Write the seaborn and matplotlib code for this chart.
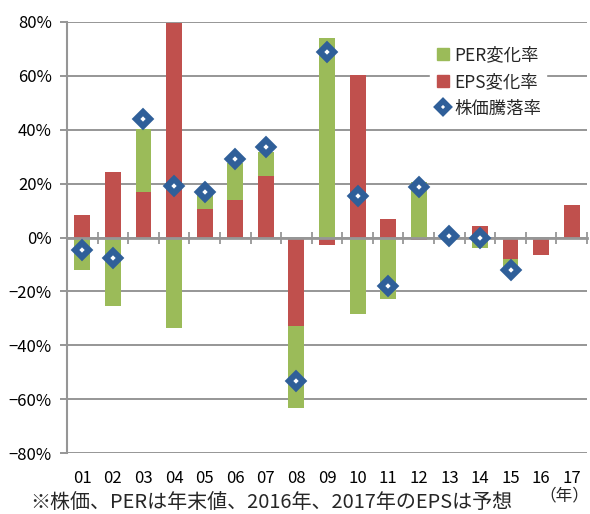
import numpy as np
import pandas as pd
import matplotlib
matplotlib.use('Agg')
import matplotlib.pyplot as plt
from matplotlib.lines import Line2D
from matplotlib.ticker import FuncFormatter, FixedLocator
import seaborn as sns

# data (% change per year)
years = ['01', '02', '03', '04', '05', '06', '07', '08', '09',
         '10', '11', '12', '13', '14', '15', '16', '17']
eps_chg = [8.5, 24.3, 17.0, 79.8, 10.7, 14.0, 22.8, -32.7, -2.9,
           60.5, 6.7, -1.1, 1.0, 4.2, -7.9, -6.6, 11.9]
per_chg = [-12.0, -25.3, 23.4, -33.6, 5.5, 13.8, 8.9, -30.6, 74.2,
           -28.3, -22.8, 20.6, -0.6, -3.8, -4.3, 0.0, 0.0]
price_chg = [-4.7, -7.6, 43.9, 19.1, 16.8, 29.2, 33.6, -53.4, 68.9,
             15.4, -18.1, 18.8, 0.4, 0.0, -11.9, np.nan, np.nan]

GREEN = '#9BBB59'
RED = '#C0504D'
BLUE = '#2F5F99'
GRID = '#969696'

sns.set_style('white')
plt.rcParams['font.family'] = ['Noto Sans CJK JP', 'DejaVu Sans']

df = pd.DataFrame({'year': years, 'eps': eps_chg, 'per': per_chg, 'price': price_chg})
# PER stacks on top of EPS, positives and negatives separately
df['per_bottom'] = np.where(df['per'] >= 0, df['eps'].clip(lower=0), df['eps'].clip(upper=0))

fig = plt.figure(figsize=(5.9, 5.14), dpi=100)
ax = fig.add_axes([67 / 590, 1 - 453 / 514, 520 / 590, 431 / 514])

sns.barplot(data=df, x='year', y='eps', color=RED, width=0.52, saturation=1,
            order=years, ax=ax, zorder=1, linewidth=0)
sns.barplot(data=df, x='year', y='per', color=GREEN, width=0.52, saturation=1,
            order=years, ax=ax, bottom=df['per_bottom'].values, zorder=1, linewidth=0)
sns.lineplot(data=df, x='year', y='price', ax=ax, linestyle='none', marker='D',
             markersize=6.8, markerfacecolor='white', markeredgecolor=BLUE,
             markeredgewidth=4.4, zorder=5)

ax.set_xlim(-0.5, len(years) - 0.5)
ax.set_ylim(-80, 80)
ax.set_yticks(np.arange(-80, 81, 20))
ax.yaxis.set_major_formatter(FuncFormatter(lambda v, p: f'{v:.0f}%'.replace('-', '\u2212')))
ax.grid(axis='y', color=GRID, linewidth=1.4)
ax.set_axisbelow(True)
ax.set_xlabel('')
ax.set_ylabel('')

for s in ['right', 'bottom']:
    ax.spines[s].set_visible(False)
ax.spines['left'].set_color(GRID)
ax.spines['left'].set_linewidth(1.5)
# zero line with category separators
ax.spines['top'].set_position(('data', 0))
ax.spines['top'].set_color(GRID)
ax.spines['top'].set_linewidth(2)
ax.spines['top'].set_zorder(3)
ax.xaxis.set_minor_locator(FixedLocator(np.arange(0.5, len(years), 1)))
ax.tick_params(axis='x', which='minor', top=True, bottom=False, direction='inout',
               length=8.5, width=1.3, color=GRID)
ax.tick_params(axis='x', which='major', bottom=True, top=False, length=0, pad=12,
               labelsize=12, colors='black')
ax.tick_params(axis='y', left=True, length=5, width=1.4, color=GRID, pad=6,
               labelsize=12, labelcolor='black')

handles = [
    Line2D([], [], linestyle='none', marker='s', markersize=8.5, color=GREEN),
    Line2D([], [], linestyle='none', marker='s', markersize=8.5, color=RED),
    Line2D([], [], linestyle='none', marker='D', markersize=6, markerfacecolor='white',
           markeredgecolor=BLUE, markeredgewidth=4),
]
leg = ax.legend(handles, ['PER変化率', 'EPS変化率', '株価騰落率'],
                loc='upper left', bbox_to_anchor=(430 / 590, 1 - 41 / 514),
                bbox_transform=fig.transFigure, fontsize=12.5, frameon=True,
                framealpha=1, edgecolor='white', fancybox=False,
                handlelength=0.9, handletextpad=0.2, labelspacing=0.5,
                borderpad=0.3, borderaxespad=0)
leg.set_zorder(10)

fig.text(589 / 590, 1 - 496 / 514, '（年）', fontsize=12, va='center', ha='right')
fig.text(30 / 590, 1 - 513 / 514, '※株価、PERは年末値、2016年、2017年のEPSは予想',
         fontsize=14.4, va='bottom', ha='left')

fig.savefig('out.png', dpi=100)
